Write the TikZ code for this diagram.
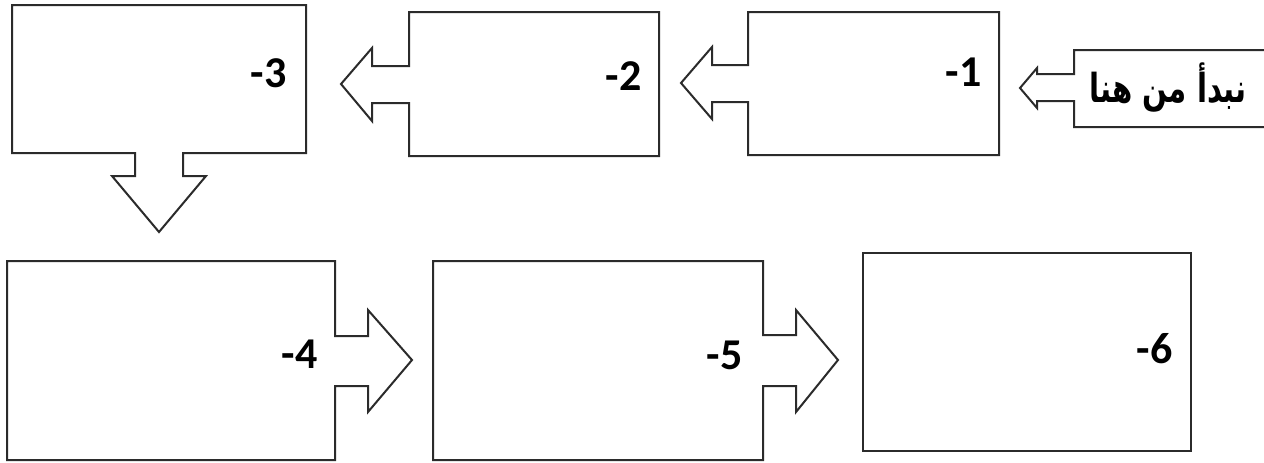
\documentclass[tikz,border=0pt]{standalone}
\usepackage{fontspec}
\setmainfont{Carlito}
\newfontfamily\arabicfont[Script=Arabic]{DejaVu Sans}
\TeXXeTstate=1
\usetikzlibrary{positioning}
\definecolor{outline}{HTML}{2b2b2b}

\begin{document}
\begin{tikzpicture}[x=0.5pt, y=-0.5pt,
    stepbox/.style={draw=outline, line width=1pt, fill=white},
    steplabel/.style={anchor=east, inner sep=0pt, font=\fontsize{22}{26}\selectfont\bfseries}]
    \useasboundingbox (0,0) rectangle (1264,462);
    % start box, arrow to the left
    \draw[stepbox] (1280,50) -- (1074,50) -- (1074,74) -- (1037,74) -- (1037,68) -- (1020,88)
      -- (1037,108) -- (1037,101) -- (1074,101) -- (1074,127) -- (1280,127) -- cycle;
    \node[font=\arabicfont\bfseries\fontsize{20}{24}\selectfont, inner sep=0pt] (start) at (1168,88)
      {\scalebox{0.73}[1]{\beginR نبدأ من هنا\endR}};
    % top row
    \draw[stepbox] (999,12) -- (748,12) -- (748,65) -- (712,65) -- (712,47) -- (681,83)
      -- (712,119) -- (712,102) -- (748,102) -- (748,155) -- (999,155) -- cycle;
    \draw[stepbox] (659,12) -- (409,12) -- (409,66) -- (372,66) -- (372,48) -- (341,84)
      -- (372,121) -- (372,103) -- (409,103) -- (409,156) -- (659,156) -- cycle;
    \draw[stepbox] (12,5) -- (306,5) -- (306,153) -- (183,153) -- (183,176) -- (206,176)
      -- (159,232) -- (112,176) -- (135,176) -- (135,153) -- (12,153) -- cycle;
    % bottom row
    \draw[stepbox] (7,261) -- (335,261) -- (335,336) -- (368,336) -- (368,310) -- (412,360)
      -- (368,412) -- (368,386) -- (335,386) -- (335,460) -- (7,460) -- cycle;
    \draw[stepbox] (433,261) -- (763,261) -- (763,335) -- (796,335) -- (796,310) -- (838,360)
      -- (796,412) -- (796,386) -- (763,386) -- (763,460) -- (433,460) -- cycle;
    \draw[stepbox] (863,253) rectangle (1191,451);
    % numbers
    \foreach \n/\xr/\yc in {1/982/72, 2/642/76, 3/287/73, 4/318/354, 5/743/355, 6/1173/349} {
      \node[steplabel] (lab\n) at (\xr,\yc) {-\n};
    }
\end{tikzpicture}
\end{document}
